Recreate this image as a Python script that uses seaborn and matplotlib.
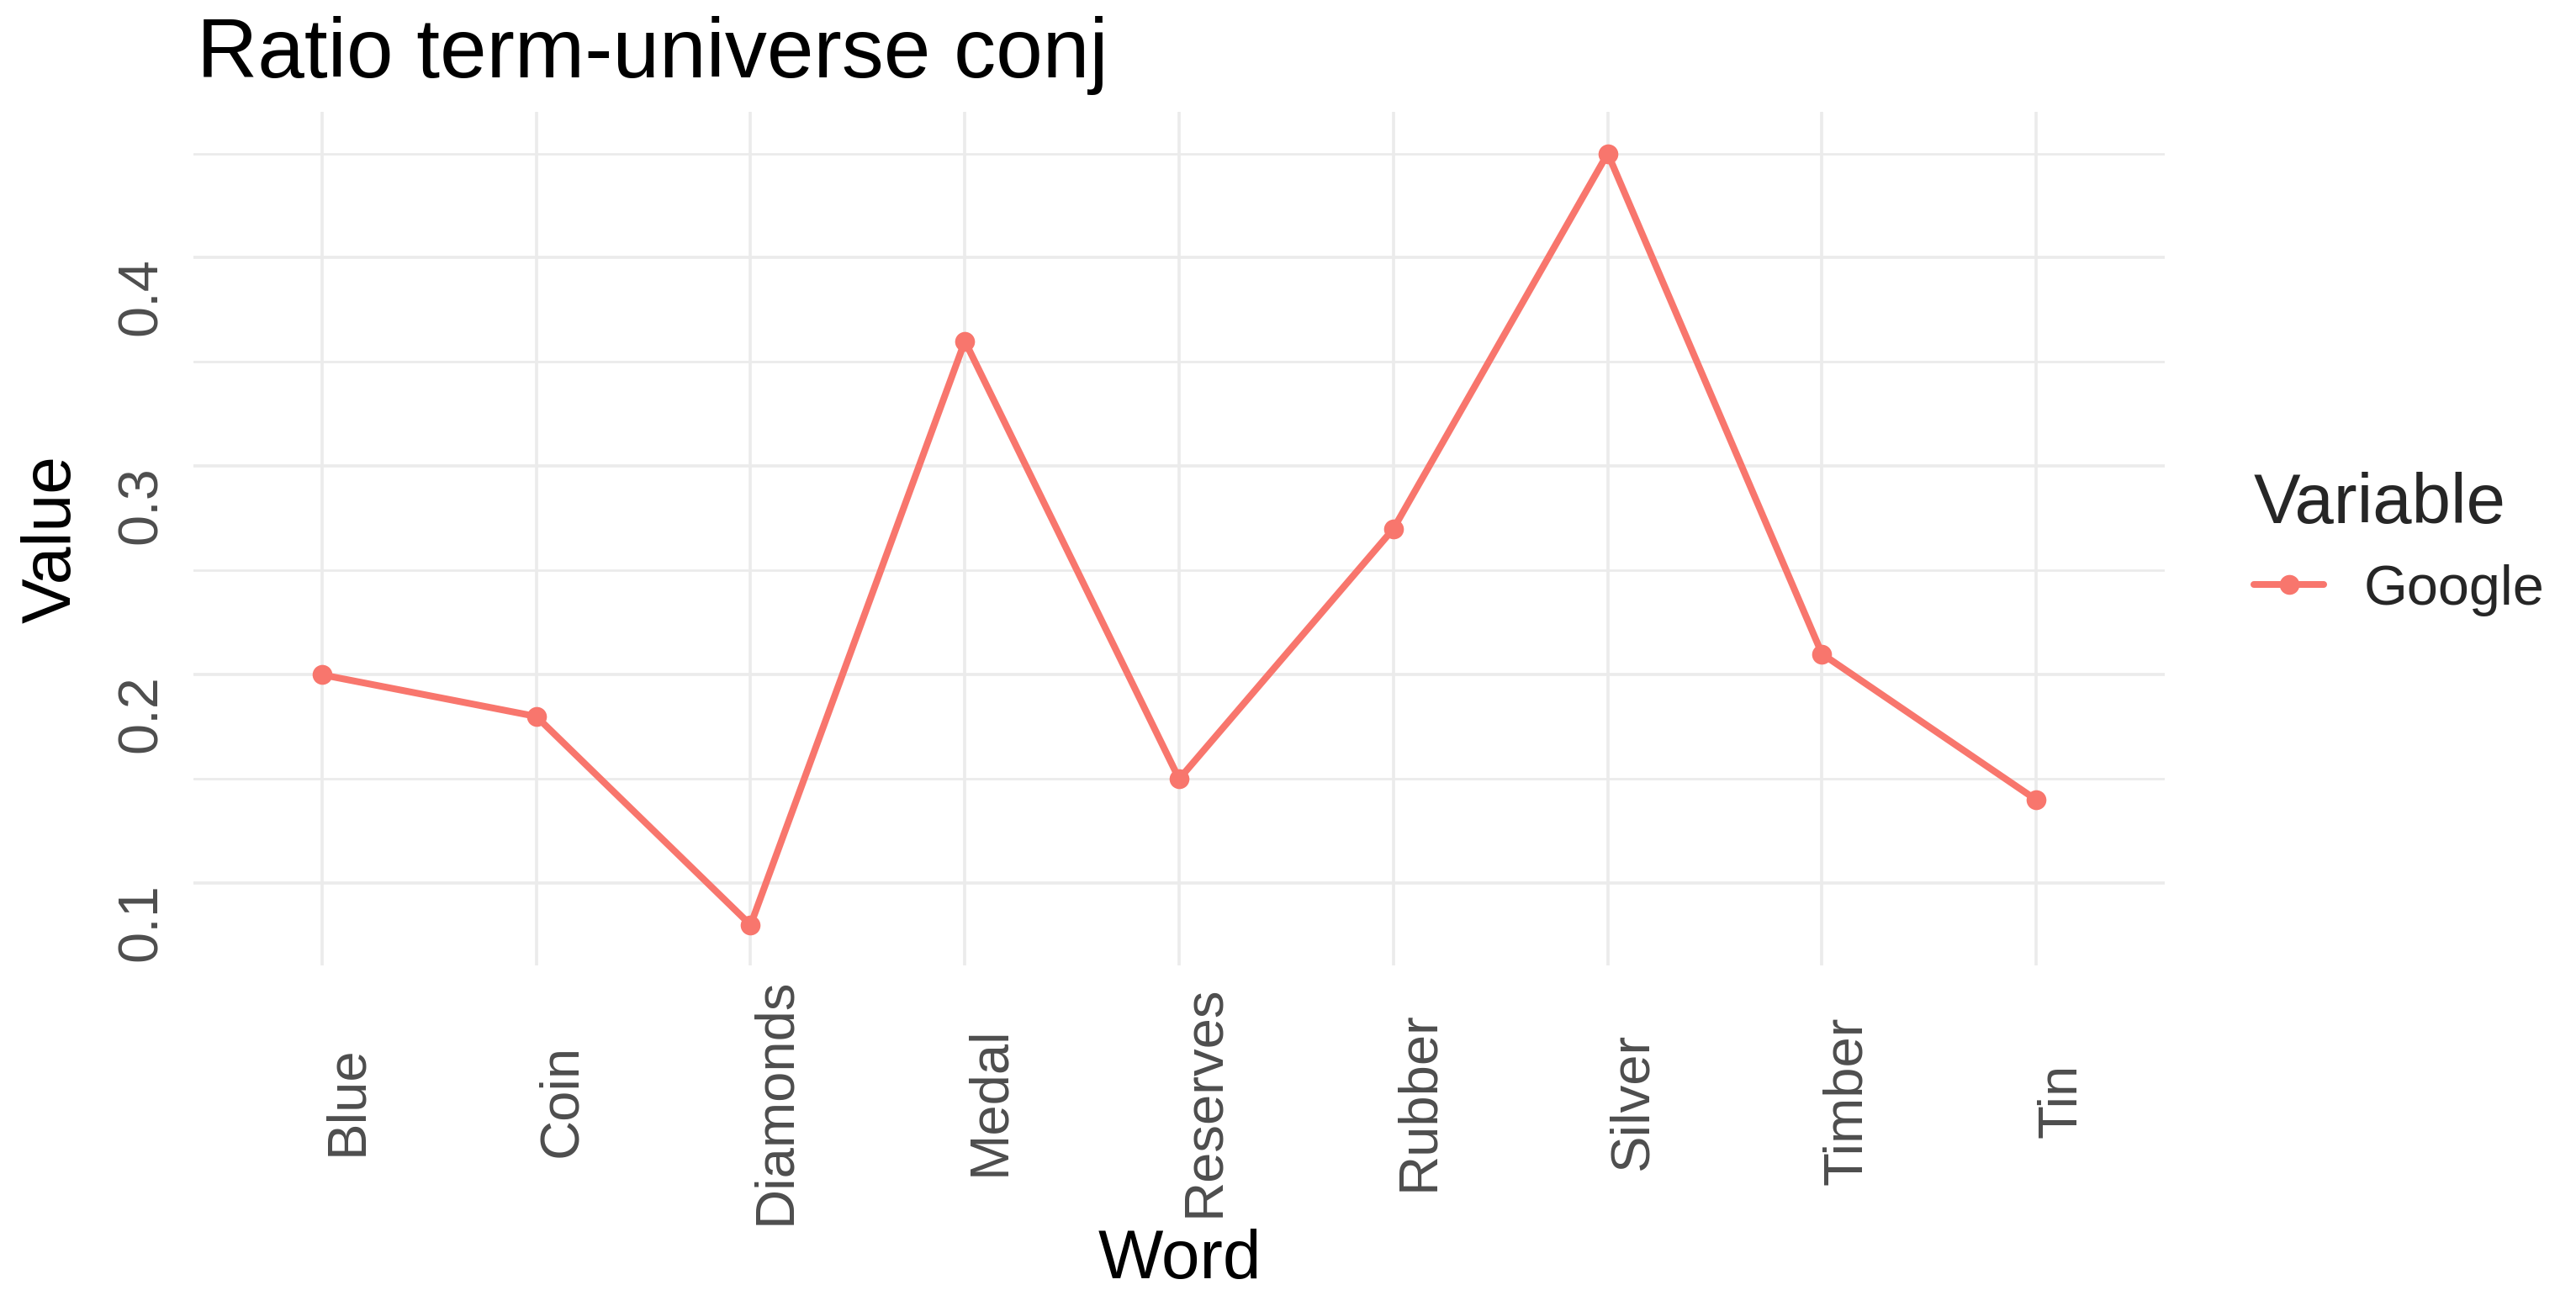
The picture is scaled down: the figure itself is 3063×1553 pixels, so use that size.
import numpy as np
import pandas as pd
import matplotlib
matplotlib.use("Agg")
import matplotlib.pyplot as plt
import seaborn as sns

# ---- data ----
words = ["Blue", "Coin", "Diamonds", "Medal", "Reserves", "Rubber", "Silver", "Timber", "Tin"]
google = [0.20, 0.18, 0.08, 0.36, 0.15, 0.27, 0.45, 0.21, 0.14]
series_name = "Google"
y_major = [0.1, 0.2, 0.3, 0.4]
y_major_labels = ["0.1", "0.2", "0.3", "0.4"]
y_minor = [0.15, 0.25, 0.35, 0.45]

df = pd.DataFrame({"Word": words, "Value": google, "Variable": [series_name] * len(words)})

sns.set_theme(style="white")
plt.rcParams['font.family'] = ['Liberation Sans', 'DejaVu Sans']

W, H, DPI = 3063, 1553, 200
fig = plt.figure(figsize=(W / DPI, H / DPI), dpi=DPI)
fig.patch.set_facecolor("white")
ax = fig.add_axes([0.0751, 0.2608, 0.7653, 0.6536])
ax.set_facecolor("white")

sns.lineplot(data=df, x="Word", y="Value", hue="Variable", palette=["#F8766D"],
             marker="o", markersize=8.5, markeredgewidth=0, linewidth=2.9,
             sort=False, ax=ax)

ax.set_xlim(-0.6, len(words) - 1 + 0.6)
ax.set_ylim(0.0606, 0.4700)
ax.set_xticks(range(len(words)))
ax.set_xticklabels(words)
ax.set_yticks(y_major)
ax.set_yticklabels(y_major_labels)
ax.set_yticks(y_minor, minor=True)

ax.grid(which="major", color="#EBEBEB", linewidth=1.3)
ax.grid(which="minor", axis="y", color="#EBEBEB", linewidth=1.0)
ax.set_axisbelow(True)
for s in ax.spines.values():
    s.set_visible(False)

ax.tick_params(axis="x", which="both", length=0, pad=58, labelsize=23.5, labelcolor="#4D4D4D")
ax.tick_params(axis="y", which="both", length=0, pad=22, labelsize=24, labelcolor="#4D4D4D")
for t in ax.get_xticklabels():
    t.set_rotation(90)
    t.set_ha("left")
    t.set_va("center")
for t in ax.get_yticklabels():
    t.set_rotation(90)
    t.set_ha("center")
    t.set_va("top")

ax.set_xlabel("")
ax.set_ylabel("")
fig.text(0.4579, 0.0214, "Word", ha="center", va="baseline", fontsize=29.5, color="black")
fig.text(0.0204, 0.5874, "Value", ha="center", va="center", rotation=90, fontsize=29, color="black")
fig.text(0.0765, 0.941, "Ratio term-universe conj", ha="left", va="baseline", fontsize=36, color="black")

handles, labels = ax.get_legend_handles_labels()
if ax.get_legend() is not None:
    ax.get_legend().remove()
ax.legend(handles, labels, title="Variable", loc="upper left",
          bbox_to_anchor=(0.875, 0.639), bbox_transform=fig.transFigure,
          frameon=False, fontsize=24, title_fontsize=30, alignment="left",
          borderpad=0, borderaxespad=0, handlelength=1.25, handletextpad=0.7,
          labelspacing=0.48)

fig.savefig("out.png", dpi=DPI, facecolor="white")
